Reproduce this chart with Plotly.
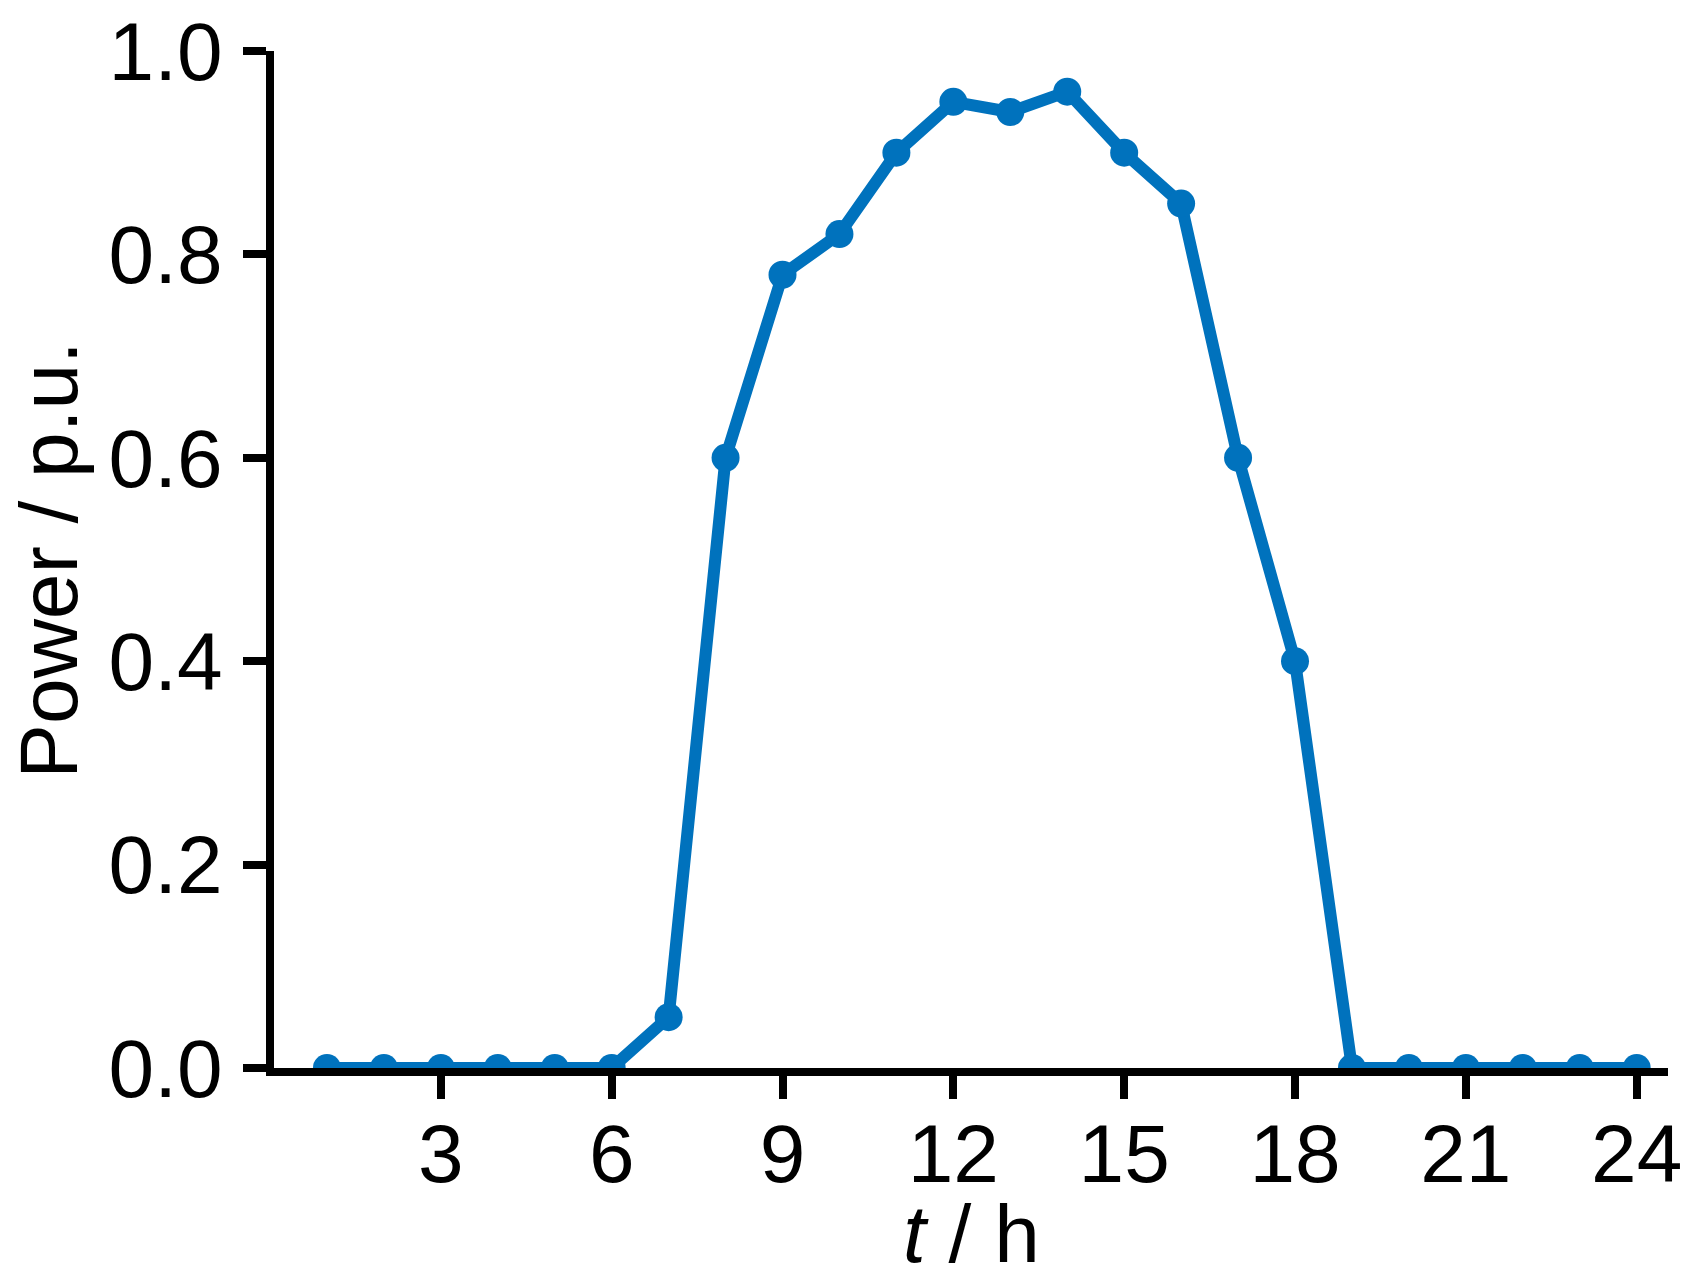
import plotly.graph_objects as go

hours = list(range(1, 25))
power = [0, 0, 0, 0, 0, 0, 0.05, 0.60, 0.78, 0.82, 0.90, 0.95,
         0.94, 0.96, 0.90, 0.85, 0.60, 0.40, 0, 0, 0, 0, 0, 0]
x_ticks = [3, 6, 9, 12, 15, 18, 21, 24]
y_ticks = [0.0, 0.2, 0.4, 0.6, 0.8, 1.0]
y_tick_text = ["0.0", "0.2", "0.4", "0.6", "0.8", "1.0"]
x_title = "<i>t</i> / h"
y_title = "Power / p.u."

FONT = "Liberation Sans, Arial, sans-serif"
BLUE = "#0072BD"

fig = go.Figure()
fig.add_trace(go.Scatter(
    x=hours, y=power, mode="lines+markers",
    line=dict(color=BLUE, width=12),
    marker=dict(color=BLUE, size=28),
    showlegend=False,
))

# page body has an 8px margin; figure sized so the page fits the window
fig.update_layout(
    width=1680, height=1267,
    margin=dict(l=266, r=20, t=43, b=207),
    plot_bgcolor="white", paper_bgcolor="white",
    font=dict(family=FONT, size=82, color="black"),
    annotations=[
        dict(text=x_title, xref="paper", yref="paper", x=0.5, y=-0.163,
             xanchor="center", yanchor="middle", showarrow=False,
             font=dict(family=FONT, size=82, color="black")),
        dict(text=y_title, xref="paper", yref="paper", x=-0.162, y=0.5,
             xanchor="center", yanchor="middle", showarrow=False, textangle=-90,
             font=dict(family=FONT, size=82, color="black")),
    ],
)
fig.update_xaxes(
    range=[0.07, 24.55], tickvals=x_ticks, ticktext=[str(v) for v in x_ticks],
    showgrid=False, zeroline=False, automargin=False,
    showline=True, linecolor="black", linewidth=8,
    ticks="outside", ticklen=23, tickwidth=8, tickcolor="black",
    tickfont=dict(family=FONT, size=82),
    ticklabelstandoff=-15, ticklabeloverflow="allow",
)
fig.update_yaxes(
    range=[0, 1], tickvals=y_ticks, ticktext=y_tick_text,
    showgrid=False, zeroline=False, automargin=False,
    showline=True, linecolor="black", linewidth=8,
    ticks="outside", ticklen=23, tickwidth=8, tickcolor="black",
    tickfont=dict(family=FONT, size=82),
    ticklabelstandoff=4, ticklabeloverflow="allow",
)

fig.write_html("out.html")
